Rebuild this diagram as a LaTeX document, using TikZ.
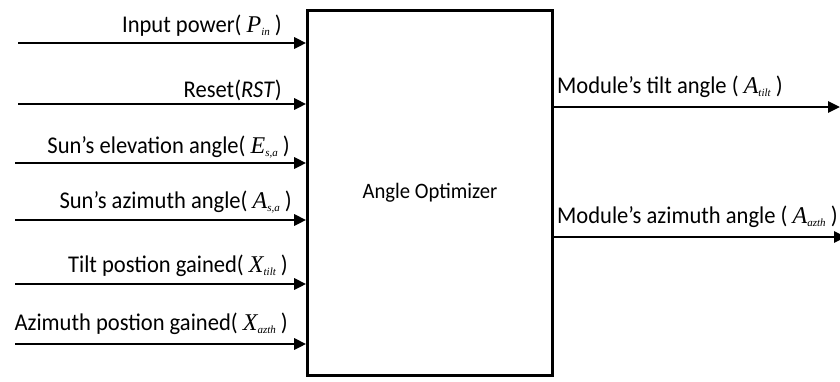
\documentclass[tikz,border=0pt]{standalone}
\usepackage{fontspec}
\setmainfont{Carlito}[FakeStretch=0.94]
\newfontfamily\tms{Liberation Serif}
\usetikzlibrary{arrows.meta}
% italic serif symbol with a small lowered subscript
\newcommand{\symb}[2]{{\tms\itshape #1\raisebox{-0.35ex}{\fontsize{11}{11}\selectfont #2}}}
\begin{document}
\begin{tikzpicture}[x=1pt,y=-1pt,
  signal/.style={line width=2.8pt,-{Triangle[length=12pt,width=11pt]}},
  lbl/.style={font=\fontsize{24}{26}\selectfont,inner sep=0pt},
  block/.style={draw,line width=2.6pt,minimum width=245pt,minimum height=365pt,inner sep=0pt,font=\fontsize{22}{24}\selectfont}]
\useasboundingbox (0,0) rectangle (840,381);
\node[block] (opt) at (430,193) {Angle Optimizer};
% input signals
\coordinate (i1) at (18,43);
\coordinate (i2) at (18,104);
\coordinate (i3) at (15,163);
\coordinate (i4) at (15,220);
\coordinate (i5) at (15,284);
\coordinate (i6) at (15,344);
\foreach \k in {1,...,6}{\draw[signal] (i\k) -- (i\k -| opt.west);}
\node[lbl,anchor=base east] (l1) at (282,32) {Input power( \symb{P}{in} )};
\node[lbl,anchor=base east] (l2) at (282,97) {Reset(\textit{RST})};
\node[lbl,anchor=base east] (l3) at (290,153) {Sun’s elevation angle( \symb{E}{s,a} )};
\node[lbl,anchor=base east] (l4) at (292,208) {Sun’s azimuth angle( \symb{A}{s,a} )};
\node[lbl,anchor=base east] (l5) at (288,272) {Tilt postion gained( \symb{X}{tilt} )};
\node[lbl,anchor=base east] (l6) at (288,330) {Azimuth postion gained( \symb{X}{azth} )};
% output signals
\coordinate (o1) at (840,107);
\coordinate (o2) at (846,237);
\draw[signal] (o1 -| opt.east) -- (o1);
\draw[signal] (o2 -| opt.east) -- (o2);
\node[lbl,anchor=base west] (m1) at (557,93) {Module’s tilt angle ( \symb{A}{tilt} )};
\node[lbl,anchor=base west] (m2) at (557,223) {Module’s azimuth angle ( \symb{A}{azth} )};
\end{tikzpicture}
\end{document}
